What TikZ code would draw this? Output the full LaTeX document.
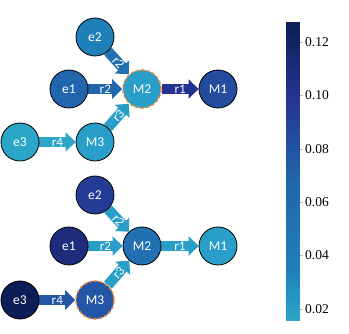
\documentclass[tikz,border=0pt]{standalone}
\usepackage{fontspec}
\setmainfont{Liberation Serif}
\newfontfamily\labfont{Carlito}
\usetikzlibrary{arrows.meta,backgrounds}
% colours picked from the colour bar
\definecolor{cA}{RGB}{44,166,200}
\definecolor{cB}{RGB}{40,158,200}
\definecolor{cC}{RGB}{31,127,185}
\definecolor{cD}{RGB}{33,112,178}
\definecolor{cE}{RGB}{33,102,172}
\definecolor{cF}{RGB}{35,86,165}
\definecolor{cG}{RGB}{35,76,158}
\definecolor{cH}{RGB}{37,60,150}
\definecolor{cI}{RGB}{37,50,145}
\definecolor{cJ}{RGB}{30,44,125}
\definecolor{cK}{RGB}{12,30,85}
\definecolor{hlorange}{RGB}{238,135,50}
\tikzset{
  met/.style={circle,draw=black,line width=0.8pt,minimum size=38pt,inner sep=0pt,text=white,font=\labfont\fontsize{13.5}{13.5}\selectfont},
  hl/.style={draw=hlorange,line width=1.6pt,dash pattern=on 3pt off 2.5pt},
  rx/.style={line width=10.5pt,-{Triangle[length=10pt,width=19pt]}},
  rlab/.style={midway,sloped,inner sep=0pt,text=white,font=\labfont\fontsize{13}{13}\selectfont},
}
\begin{document}
\begin{tikzpicture}[x=1pt,y=-1pt]
  \useasboundingbox (0,0) rectangle (349,334);
  % upper network
  \node[met,fill=cC] (e2a) at (95,37) {e2};
  \node[met,fill=cE] (e1a) at (69,89) {e1};
  \node[met,fill=cB,hl] (M2a) at (142,89) {M2};
  \node[met,fill=cG] (M1a) at (218,89) {M1};
  \node[met,fill=cA] (e3a) at (20,142) {e3};
  \node[met,fill=cB] (M3a) at (95,142) {M3};
  % lower network
  \node[met,fill=cH] (e2b) at (95,195) {e2};
  \node[met,fill=cJ] (e1b) at (69,246) {e1};
  \node[met,fill=cD] (M2b) at (142,246) {M2};
  \node[met,fill=cB] (M1b) at (218,246) {M1};
  \node[met,fill=cK] (e3b) at (20,300) {e3};
  \node[met,fill=cF,hl] (M3b) at (95,300) {M3};
  \begin{scope}[on background layer]
    \draw[rx,cD] (e2a) -- (M2a) node[rlab] {r2};
    \draw[rx,cE] (e1a) -- (M2a) node[rlab] {r2};
    \draw[rx,cI] (M2a) -- (M1a) node[rlab] {r1};
    \draw[rx,cA] (e3a) -- (M3a) node[rlab] {r4};
    \draw[rx,cB] (M3a) -- (M2a) node[rlab] {r3};
    \draw[rx,cB] (e2b) -- (M2b) node[rlab] {r2};
    \draw[rx,cB] (e1b) -- (M2b) node[rlab] {r2};
    \draw[rx,cB] (M2b) -- (M1b) node[rlab] {r1};
    \draw[rx,cF] (e3b) -- (M3b) node[rlab] {r4};
    \draw[rx,cB] (M3b) -- (M2b) node[rlab] {r3};
  \end{scope}
  % colour bar, built from thin strips
  \foreach \lo/\hi/\ya/\yb in {cA/cC/321/269,cC/cE/269/182,cE/cI/182/95,cI/cK/95/22}{
    \foreach \k in {0,...,19}{
      \pgfmathsetmacro\p{100*(\k+0.5)/20}
      \pgfmathsetmacro\ys{\ya+(\yb-\ya)*\k/20}
      \pgfmathsetmacro\ye{\ya+(\yb-\ya)*(\k+1)/20-0.4}
      \fill[\hi!\p!\lo] (286,\ys) rectangle (300,\ye);
    }
  }
  \foreach \v/\y in {0.02/309,0.04/255.6,0.06/202.2,0.08/148.8,0.10/95.4,0.12/42}{
    \draw[gray!60,line width=0.4pt] (300,\y) -- (303,\y);
    \node[anchor=west,inner sep=0pt,font=\fontsize{13.5}{13.5}\selectfont] at (305,\y) {\v};
  }
\end{tikzpicture}
\end{document}
